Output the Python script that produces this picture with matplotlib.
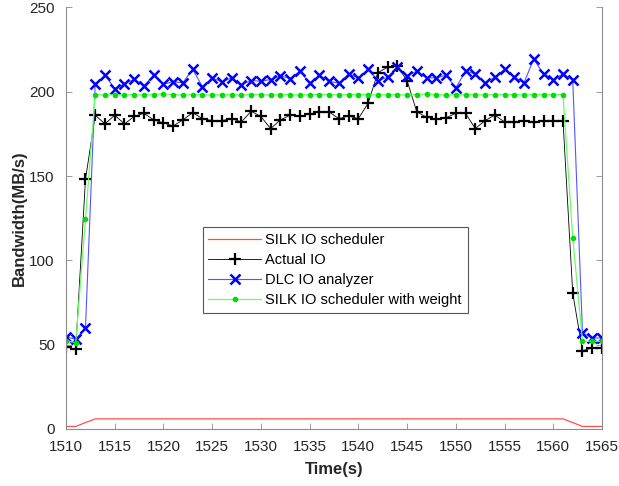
import numpy as np
import matplotlib
matplotlib.use("Agg")
import matplotlib.pyplot as plt

plt.rcParams["font.family"] = ["Liberation Sans", "DejaVu Sans"]

# time axis, one sample per second
time_s = np.arange(1510, 1566)

silk = [1.5, 1.5, 3.8] + [6] * 49 + [3.8, 1.5, 1.5, 1.5]

actual = [48.5, 47.5, 148.0, 186.1, 180.9, 186.1, 180.9, 185.3, 187.2, 183.3,
          181.5, 179.7, 183.3, 187.6, 184.0, 182.9, 182.9, 184.0, 182.1, 188.4,
          185.3, 178.1, 183.3, 186.1, 185.3, 186.8, 188.0, 188.0, 184.0, 185.6,
          184.0, 193.2, 211.3, 214.5, 215.0, 206.6, 188.0, 184.9, 183.7, 184.5,
          187.2, 187.2, 178.1, 182.9, 186.1, 182.1, 182.1, 182.9, 182.1, 182.9,
          182.9, 182.9, 80.5, 46.5, 48.0, 48.0]

dlc = [54.7, 53.2, 59.9, 204.6, 209.8, 201.8, 204.6, 207.4, 203.4, 209.8,
       204.6, 205.8, 205.4, 213.3, 203.0, 208.2, 205.8, 208.2, 204.2, 206.6,
       206.2, 207.2, 209.4, 207.8, 212.2, 205.0, 209.8, 206.2, 205.0, 210.6,
       208.2, 213.3, 206.6, 208.6, 214.5, 209.4, 212.2, 208.2, 208.2, 209.8,
       202.3, 212.2, 210.6, 205.4, 208.6, 213.3, 208.6, 205.4, 219.3, 210.6,
       207.0, 210.6, 207.0, 57.0, 54.0, 54.0]

silk_weight = [52.4, 51.2, 124.4, 198.3, 198.0, 198.3, 198.0, 198.3, 198.0, 198.3,
               198.7, 198.3, 198.0, 198.3, 198.3, 198.0, 198.3, 198.3, 198.0, 198.3,
               198.3, 198.0, 198.3, 198.3, 198.0, 198.3, 198.3, 198.3, 198.0, 198.3,
               198.3, 198.3, 198.0, 198.3, 198.3, 198.0, 198.3, 198.7, 198.3, 198.0,
               198.3, 198.3, 198.3, 198.0, 198.3, 198.3, 198.3, 198.0, 198.3, 198.3,
               198.3, 198.3, 113.5, 52.0, 52.0, 52.0]

fig = plt.figure(figsize=(6.19, 4.86), dpi=100)
ax = fig.add_axes([0.1066, 0.1173, 0.8659, 0.8675])

ax.plot(time_s, silk, color="#ff4d4d", lw=0.9, label="SILK IO scheduler")
ax.plot(time_s, actual, color="black", lw=0.6, marker="+", ms=9, mew=1.6,
        label="Actual IO")
ax.plot(time_s, dlc, color="#5555ff", lw=0.8, marker="x", ms=7, mew=1.8,
        mec="#0000ff", label="DLC IO analyzer")
ax.plot(time_s, silk_weight, color="#66ff66", lw=0.9, marker=".", ms=6,
        mec="#00dd00", mfc="#00dd00", label="SILK IO scheduler with weight")

ax.set_xlim(1510, 1565)
ax.set_ylim(0, 250)
ax.set_xticks(np.arange(1510, 1566, 5))
ax.set_yticks(np.arange(0, 251, 50))
ax.tick_params(direction="in", length=4, width=0.6, colors="#8c8c8c",
               labelcolor="#262626", labelsize=11, right=True, pad=8)
for s in ax.spines.values():
    s.set_color("#8c8c8c")
    s.set_linewidth(0.8)
ax.spines["top"].set_visible(False)

ax.set_xlabel("Time(s)", fontsize=12, fontweight="bold", color="#262626", labelpad=6)
ax.set_ylabel("Bandwidth(MB/s)", fontsize=12, fontweight="bold", color="#262626", labelpad=2)

leg = ax.legend(loc="center", bbox_to_anchor=(0.502, 0.377), fontsize=10.5,
                handlelength=3.6, fancybox=False, framealpha=1,
                borderpad=0.4, labelspacing=0.4, handletextpad=0.3)
leg.get_frame().set_edgecolor("#555555")
leg.get_frame().set_linewidth(0.8)

fig.savefig("out.png", dpi=100)
